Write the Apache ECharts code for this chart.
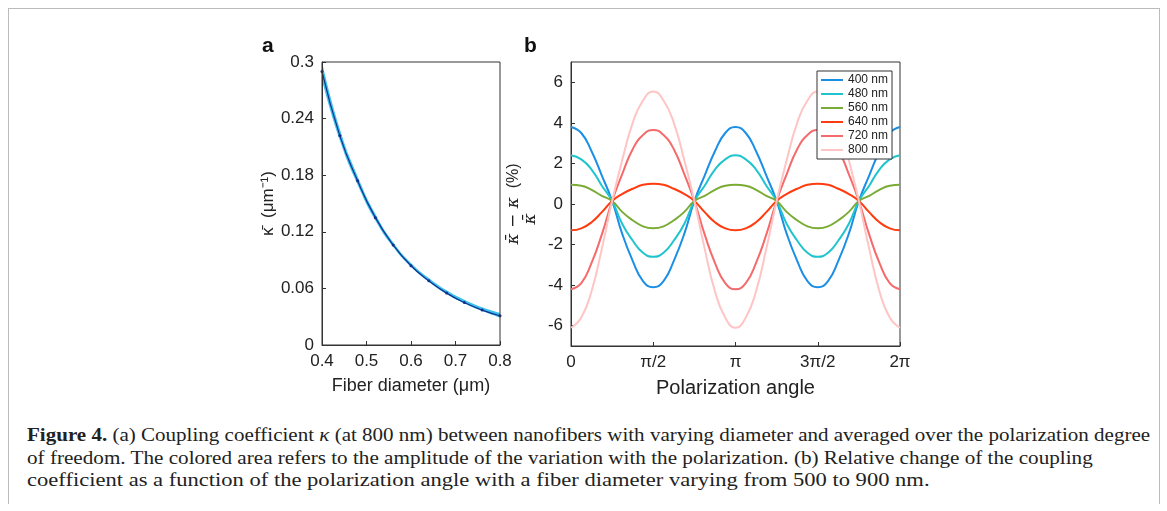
<!DOCTYPE html>
<html><head><meta charset="utf-8">
<script src="https://cdn.jsdelivr.net/npm/echarts@6/dist/echarts.min.js"></script>
<style>
body{margin:0;background:#fff;}
#frame{position:absolute;left:8px;top:8px;width:1150px;height:495px;border:1px solid #bbb;border-bottom:none;}
#chart{position:absolute;left:0;top:0;width:1167px;height:420px;}
#cap{position:absolute;left:27px;top:424px;font-family:"Liberation Serif",serif;font-size:19px;line-height:22.5px;color:#222;white-space:nowrap;}
#cap span{display:inline-block;transform-origin:0 50%;}
</style></head><body>
<div id="frame"></div>
<div id="chart"></div>
<div id="cap"><span id="l1"><b>Figure 4.</b> (a) Coupling coefficient <i>κ</i> (at 800 nm) between nanofibers with varying diameter and averaged over the polarization degree</span><br><span id="l2">of freedom. The colored area refers to the amplitude of the variation with the polarization. (b) Relative change of the coupling</span><br><span id="l3">coefficient as a function of the polarization angle with a fiber diameter varying from 500 to 900 nm.</span></div>
<script>
// stretch caption lines to the widths they have in the figure
[['l1',1123],['l2',1066],['l3',902]].forEach(([id,w])=>{
  const el = document.getElementById(id);
  el.style.transform = 'scaleX(' + (w / el.offsetWidth) + ')';
});

// panel a
const diam = [0.40, 0.44, 0.48, 0.52, 0.56, 0.60, 0.64, 0.68, 0.72, 0.76, 0.80];
const kappaMean = [0.290, 0.222, 0.174, 0.135, 0.106, 0.084, 0.068, 0.055, 0.045, 0.037, 0.031];
const kappaLow = [0.281, 0.217, 0.170, 0.132, 0.104, 0.083, 0.067, 0.054, 0.044, 0.036, 0.029];
const kappaHigh = [0.300, 0.229, 0.179, 0.139, 0.109, 0.087, 0.071, 0.058, 0.048, 0.040, 0.034];

// panel b, angle in units of pi/16
const angleSteps = [0,1,2,3,4,5,6,7,8,9,10,11,12,13,14,15,16,17,18,19,20,21,22,23,24,25,26,27,28,29,30,31,32];
const waveNames = ['400 nm','480 nm','560 nm','640 nm','720 nm','800 nm'];
const waveColors = ['#1a8fe6','#1fc4cc','#7aab35','#ff3b0f','#f56a6a','#ffc4c4'];
const wave400 = [3.8,3.5,2.6,1.4,0.15,-1.5,-2.8,-3.8,-4.1,-3.8,-2.8,-1.5,0.15,1.4,2.6,3.5,3.8,3.5,2.6,1.4,0.15,-1.5,-2.8,-3.8,-4.1,-3.8,-2.8,-1.5,0.15,1.4,2.6,3.5,3.8];
const wave480 = [2.4,2.2,1.7,0.9,0.15,-1.0,-1.8,-2.4,-2.6,-2.4,-1.8,-1.0,0.15,0.9,1.7,2.2,2.4,2.2,1.7,0.9,0.15,-1.0,-1.8,-2.4,-2.6,-2.4,-1.8,-1.0,0.15,0.9,1.7,2.2,2.4];
const wave560 = [0.95,0.9,0.7,0.4,0.15,-0.4,-0.8,-1.1,-1.2,-1.1,-0.8,-0.4,0.15,0.4,0.7,0.9,0.95,0.9,0.7,0.4,0.15,-0.4,-0.8,-1.1,-1.2,-1.1,-0.8,-0.4,0.15,0.4,0.7,0.9,0.95];
const wave640 = [-1.3,-1.2,-0.9,-0.4,0.15,0.5,0.75,0.95,1.0,0.95,0.75,0.5,0.15,-0.4,-0.9,-1.2,-1.3,-1.2,-0.9,-0.4,0.15,0.5,0.75,0.95,1.0,0.95,0.75,0.5,0.15,-0.4,-0.9,-1.2,-1.3];
const wave720 = [-4.2,-3.9,-2.9,-1.5,0.15,1.5,2.7,3.4,3.65,3.4,2.7,1.5,0.15,-1.5,-2.9,-3.9,-4.2,-3.9,-2.9,-1.5,0.15,1.5,2.7,3.4,3.65,3.4,2.7,1.5,0.15,-1.5,-2.9,-3.9,-4.2];
const wave800 = [-6.1,-5.6,-4.3,-2.2,0.15,2.2,4.0,5.1,5.55,5.1,4.0,2.2,0.15,-2.2,-4.3,-5.6,-6.1,-5.6,-4.3,-2.2,0.15,2.2,4.0,5.1,5.55,5.1,4.0,2.2,0.15,-2.2,-4.3,-5.6,-6.1];
const waveData = [wave400, wave480, wave560, wave640, wave720, wave800];
const piLabels = {0:'0', 8:'π/2', 16:'π', 24:'3π/2', 32:'2π'};

const font = 'Liberation Sans, Arial, sans-serif';
const lab = {color:'#222', fontSize:17, fontFamily:font};
const ax = {onZero:false, lineStyle:{color:'#333'}};
const tick = {inside:true, length:4, lineStyle:{color:'#333'}};

const chart = echarts.init(document.getElementById('chart'));
const series = [
  {type:'line', xAxisIndex:0, yAxisIndex:0, data:diam.map((d,i)=>[d,kappaHigh[i]]),
   symbol:'none', smooth:true, lineStyle:{width:0}, areaStyle:{color:'#3cc0ee', opacity:1}, z:1},
  {type:'line', xAxisIndex:0, yAxisIndex:0, data:diam.map((d,i)=>[d,kappaLow[i]]),
   symbol:'none', smooth:true, lineStyle:{width:0}, areaStyle:{color:'#fff', opacity:1}, z:2},
  {type:'line', xAxisIndex:0, yAxisIndex:0, data:diam.map((d,i)=>[d,kappaMean[i]]), z:3,
   symbol:'circle', symbolSize:3, smooth:true, lineStyle:{color:'#10308a', width:1.2}, itemStyle:{color:'#10308a'}}
];
waveNames.forEach((n,k)=>series.push({
  name:n, type:'line', xAxisIndex:1, yAxisIndex:1, smooth:true, symbol:'none',
  data:angleSteps.map((a,i)=>[a, waveData[k][i]]),
  lineStyle:{color:waveColors[k], width:2}, itemStyle:{color:waveColors[k]}
}));

chart.setOption({
  animation:false,
  grid:[{left:322, top:62, width:178, height:283, show:true, borderColor:'#333', borderWidth:1, z:5},
        {left:571, top:62, width:329, height:284, show:true, borderColor:'#333', borderWidth:1}],
  legend:{data:waveNames, orient:'vertical', left:817, top:71, itemWidth:22, itemHeight:2, itemGap:2,
    padding:[3,4,3,4], borderColor:'#333', borderWidth:1, backgroundColor:'#fff',
    icon:'rect', textStyle:{fontSize:12, fontFamily:font, color:'#222'}},
  xAxis:[
    {type:'value', gridIndex:0, min:0.4, max:0.8, interval:0.1, axisLine:ax, z:5,
     axisTick:tick, splitLine:{show:false},
     axisLabel:{...lab, formatter:v=>v.toFixed(1)},
     name:'Fiber diameter (μm)', nameLocation:'middle', nameGap:32, nameTextStyle:{...lab, fontSize:18}},
    {type:'value', gridIndex:1, min:0, max:32, interval:8, axisLine:ax,
     axisTick:tick, splitLine:{show:false},
     axisLabel:{...lab, formatter:v=>piLabels[v]},
     name:'Polarization angle', nameLocation:'middle', nameGap:32, nameTextStyle:{...lab, fontSize:20}}
  ],
  yAxis:[
    {type:'value', gridIndex:0, min:0, max:0.3, interval:0.06, axisLine:ax, z:5,
     axisTick:tick, splitLine:{show:false},
     axisLabel:{...lab, formatter:v=>v===0?'0':(+v.toFixed(2)).toString()},
     name:'κ̄  (μm⁻¹)', nameLocation:'middle', nameGap:44, nameTextStyle:{...lab, fontSize:17}},
    {type:'value', gridIndex:1, min:-7, max:7, axisLine:ax,
     axisTick:{...tick, customValues:[-6,-4,-2,0,2,4,6]},
     axisLabel:{...lab, customValues:[-6,-4,-2,0,2,4,6]}, splitLine:{show:false},
     name:'{n|κ̄ − κ}  (%)\n{d|κ̄}', nameLocation:'middle', nameGap:32,
     nameTextStyle:{...lab, fontSize:16, align:'center', rich:{
       n:{fontSize:17, fontFamily:'DejaVu Serif', fontStyle:'italic'},
       d:{fontSize:17, fontFamily:'DejaVu Serif', fontStyle:'italic', padding:[0,30,0,0]}}}}
  ],
  graphic:[
    {type:'text', left:262, top:36, style:{text:'a', font:'bold 21px '+font, fill:'#111'}},
    {type:'text', left:524, top:36, style:{text:'b', font:'bold 21px '+font, fill:'#111'}}
  ],
  series
});
</script>
</body></html>
